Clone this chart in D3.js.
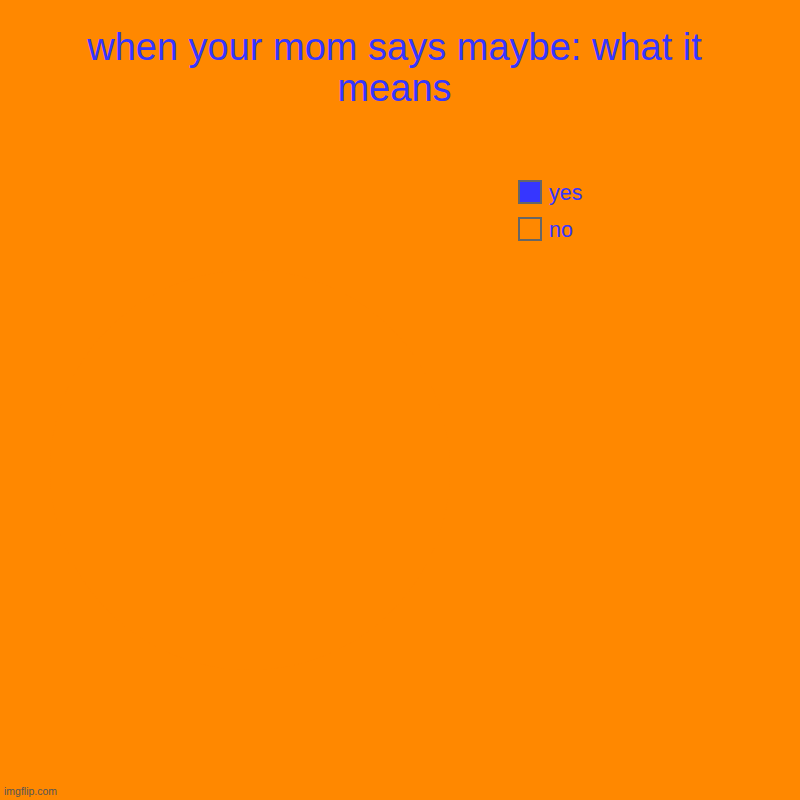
<!DOCTYPE html>
<html>
<head>
<meta charset="utf-8">
<script src="https://cdn.jsdelivr.net/npm/d3@7"></script>
<style>
  body { margin: 0; background: #ff8800; }
  svg { display: block; font-family: "Liberation Sans", Arial, sans-serif; }
</style>
</head>
<body>
<svg width="800" height="800"></svg>
<script>
const titleLines = ['when your mom says maybe: what it', 'means']
const labels = ['yes', 'no']
const values = [0, 100]
const colors = ['#3636ff', '#ff8800']

const width = 800
const height = 800
const svg = d3.select('svg')

svg.append('rect')
  .attr('width', width)
  .attr('height', height)
  .attr('fill', '#ff8800')

svg.append('g')
  .selectAll('text')
  .data(titleLines)
  .join('text')
  .attr('x', 394.5)
  .attr('y', (d, i) => 60 + i * 41)
  .attr('text-anchor', 'middle')
  .attr('font-size', 38)
  .attr('fill', '#3636ff')
  .text(d => d)

const color = d3.scaleOrdinal().domain(labels).range(colors)
const pie = d3.pie().sort(null).value(d => d.value)
const arc = d3.arc().innerRadius(0).outerRadius(200)
const slices = labels.map((label, i) => ({ label, value: values[i] }))

svg.append('g')
  .attr('transform', 'translate(250, 470)')
  .selectAll('path')
  .data(pie(slices))
  .join('path')
  .attr('d', arc)
  .attr('fill', d => color(d.data.label))

const legend = svg.append('g')
  .selectAll('g')
  .data(labels)
  .join('g')
  .attr('transform', (d, i) => 'translate(519, ' + (181 + i * 37) + ')')

legend.append('rect')
  .attr('width', 22)
  .attr('height', 22)
  .attr('fill', d => color(d))
  .attr('stroke', '#666')
  .attr('stroke-width', 2)

legend.append('text')
  .text(d => d)
  .attr('x', 30)
  .attr('y', 19)
  .attr('font-size', 21.5)
  .attr('fill', '#3636ff')

svg.append('text')
  .text('imgflip.com')
  .attr('x', 4)
  .attr('y', 795)
  .attr('font-size', 10.5)
  .attr('fill', '#555')
</script>
</body>
</html>
